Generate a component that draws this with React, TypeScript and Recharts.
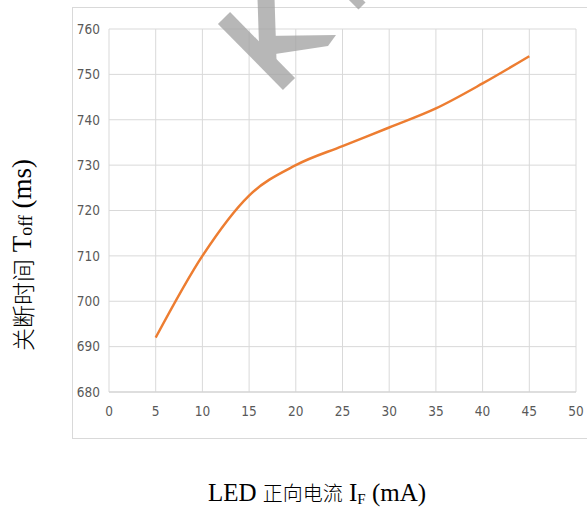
import React from "react";
import { LineChart, Line, XAxis, YAxis, CartesianGrid, Label } from "recharts";

const currents = [5, 10, 15, 20, 25, 30, 35, 40, 45];
const offTimes = [692, 710, 723.3, 730, 734.2, 738.3, 742.5, 748, 754];
const xTicks = [0, 5, 10, 15, 20, 25, 30, 35, 40, 45, 50];
const yTicks = [680, 690, 700, 710, 720, 730, 740, 750, 760];
const xTitleLatin1 = "LED ";
const xTitleCjk = "正向电流";
const yTitleCjk = "关断时间";

const data = currents.map((c, i) => ({ current: c, toff: offTimes[i] }));

const serif = "'Liberation Serif', 'Times New Roman', 'Noto Sans CJK SC', serif";
const cjk = "'Noto Sans CJK SC', sans-serif";
const tickFont = "'Liberation Sans Narrow', 'DejaVu Sans Condensed', sans-serif";

const XTitle = () => (
  <text x={317} y={501} textAnchor="middle" fill="#000" style={{ fontFamily: serif }}>
    <tspan fontSize={25}>{xTitleLatin1}</tspan>
    <tspan fontSize={20} fontFamily={cjk} fontWeight={300}>{xTitleCjk}</tspan>
    <tspan fontSize={25}> I</tspan>
    <tspan fontSize={15} dy={3}>F</tspan>
    <tspan fontSize={25} dy={-3}> (mA)</tspan>
  </text>
);

const YTitle = () => (
  <text
    x={22}
    y={255}
    transform="rotate(-90, 22, 255)"
    textAnchor="middle"
    dominantBaseline="central"
    fill="#000"
    style={{ fontFamily: serif }}
  >
    <tspan fontSize={23} fontFamily={cjk} fontWeight={300}>{yTitleCjk}</tspan>
    <tspan fontSize={27}> T</tspan>
    <tspan fontSize={18} dy={4}>off</tspan>
    <tspan fontSize={27} dy={-4}> (ms)</tspan>
  </text>
);

const Watermark = () => (
  <g opacity={0.75}>
    <line x1={224} y1={18} x2={289} y2={84} stroke="#a0a0a0" strokeWidth={17} />
    <line x1={266} y1={-2} x2={268} y2={60} stroke="#a0a0a0" strokeWidth={17} />
    <polygon points="262,36 336,35 328,46 262,56" fill="#a0a0a0" />
    <line x1={352} y1={-4} x2={362} y2={6} stroke="#a0a0a0" strokeWidth={10} />
  </g>
);

export default function App() {
  return (
    <div style={{ position: "absolute", left: 0, top: 0, width: 587, height: 508, background: "#fff" }}>
      <div
        style={{
          position: "absolute",
          left: 72,
          top: 7,
          width: 520,
          height: 432,
          border: "1px solid #d9d9d9",
          boxSizing: "border-box",
        }}
      />
      <div style={{ position: "absolute", left: 0, top: 0 }}>
        <LineChart
          width={587}
          height={508}
          data={data}
          margin={{ top: 29, right: 11, left: 0, bottom: 0 }}
        >
          <CartesianGrid stroke="#d9d9d9" strokeWidth={1} />
          <XAxis
            dataKey="current"
            type="number"
            domain={[0, 50]}
            ticks={xTicks}
            interval={0}
            height={116}
            tickLine={false}
            tickSize={0}
            tickMargin={14}
            axisLine={{ stroke: "#d0d0d0" }}
            tick={{ fill: "#595959", fontSize: 13.5, fontFamily: tickFont }}
          >
            <Label content={() => <XTitle />} />
          </XAxis>
          <YAxis
            type="number"
            domain={[680, 760]}
            ticks={yTicks}
            interval={0}
            width={109}
            tickLine={false}
            tickSize={0}
            tickMargin={9}
            axisLine={false}
            tick={{ fill: "#595959", fontSize: 13.5, fontFamily: tickFont }}
          >
            <Label content={() => <YTitle />} />
          </YAxis>
          <Line
            type="monotone"
            dataKey="toff"
            stroke="#ED7D31"
            strokeWidth={2.5}
            dot={false}
            isAnimationActive={false}
          />
        </LineChart>
      </div>
      <svg width={587} height={508} style={{ position: "absolute", left: 0, top: 0, pointerEvents: "none" }}>
        <Watermark />
      </svg>
    </div>
  );
}
